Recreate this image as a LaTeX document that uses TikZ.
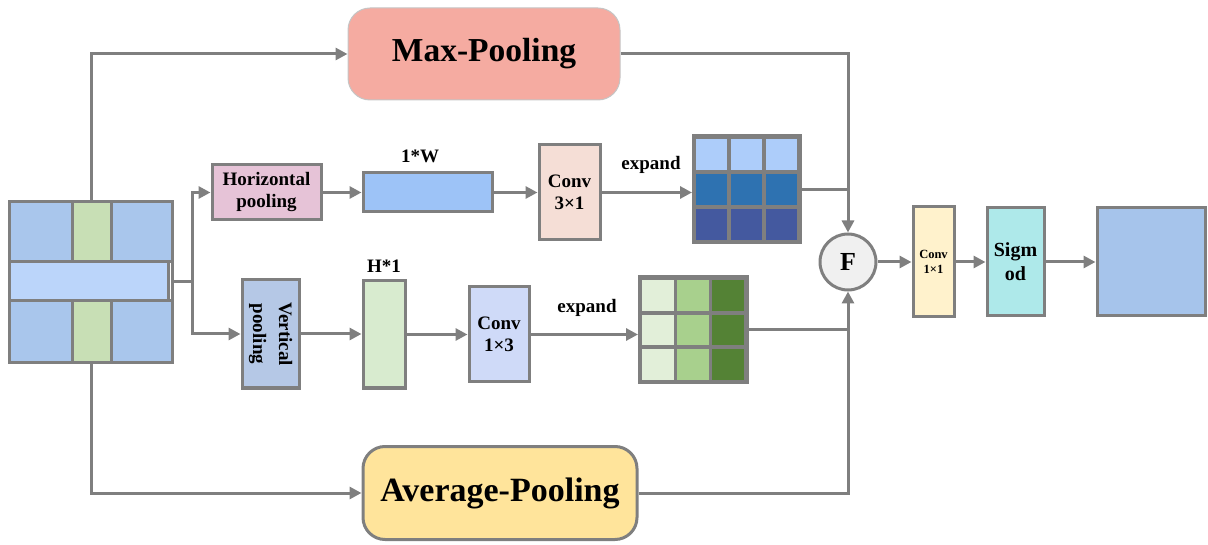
\documentclass[tikz,border=0pt]{standalone}
\usepackage{fontspec}
\setmainfont{Liberation Serif}
\usetikzlibrary{arrows.meta}
\definecolor{lgray}{HTML}{7F7F7F}
\definecolor{tileblue}{HTML}{A9C6EC}
\definecolor{barblue}{HTML}{BBD5FA}
\definecolor{tilegreen}{HTML}{C8DFB5}
\definecolor{hpool}{HTML}{E6C3D7}
\definecolor{onew}{HTML}{9DC3F7}
\definecolor{convA}{HTML}{F5DED6}
\definecolor{gA}{HTML}{ADCDFA}
\definecolor{gB}{HTML}{2E72B1}
\definecolor{gC}{HTML}{44599F}
\definecolor{vpool}{HTML}{B5C8E6}
\definecolor{honec}{HTML}{D8EBCF}
\definecolor{convB}{HTML}{CFDAF8}
\definecolor{hA}{HTML}{E2EFD9}
\definecolor{hB}{HTML}{A8D08D}
\definecolor{hC}{HTML}{548235}
\definecolor{ffill}{HTML}{F0F0F0}
\definecolor{convC}{HTML}{FFF2CC}
\definecolor{sigc}{HTML}{AEE9EA}
\definecolor{outc}{HTML}{A6C4EB}
\definecolor{maxc}{HTML}{F5ABA1}
\definecolor{avgc}{HTML}{FFE49B}
\tikzset{
  box/.style={draw=lgray, line width=3pt, inner sep=0pt, align=center,
    font=\bfseries\fontsize{19}{22}\selectfont},
  lbl/.style={inner sep=0pt, font=\bfseries\fontsize{19}{22}\selectfont},
  ln/.style={draw=lgray, line width=3pt},
  arr/.style={draw=lgray, line width=3pt, -{Triangle[length=12pt,width=12pt]}},
}
\begin{document}
\begin{tikzpicture}[x=1pt,y=-1pt]
\useasboundingbox (0,0) rectangle (1208,545);

% input feature map
\node[inner sep=0pt, minimum width=162pt, minimum height=161pt] (inp) at (91,282) {};
\fill[tileblue] (10,202) rectangle (72,262);
\fill[tileblue] (111,202) rectangle (172,262);
\fill[tileblue] (10,301) rectangle (72,362);
\fill[tileblue] (111,301) rectangle (172,362);
\fill[tilegreen] (72,202) rectangle (111,262);
\fill[tilegreen] (72,301) rectangle (111,362);
\fill[barblue] (10,262) rectangle (168,301);
\draw[ln] (72,202) -- (72,262) (111,202) -- (111,262)
          (72,301) -- (72,362) (111,301) -- (111,362)
          (10,262) -- (172,262) (10,301) -- (172,301) (168,262) -- (168,301);
\draw[ln] (inp.north west) rectangle (inp.south east);

% pooling branches
\node[box, fill=maxc, draw=lgray!45, line width=1pt, rounded corners=22pt,
      minimum width=272pt, minimum height=92pt,
      font=\bfseries\fontsize{33.5}{36}\selectfont] (maxp) at (484,54) {Max-Pooling};
\node[box, fill=avgc, rounded corners=22pt,
      minimum width=274pt, minimum height=93pt,
      font=\bfseries\fontsize{34}{38}\selectfont] (avgp) at (500,493) {Average-Pooling};

% horizontal branch
\node[box, fill=hpool, minimum width=109pt, minimum height=55pt] (hp) at (266.5,192.5) {Horizontal\\pooling};
\node[box, fill=onew, minimum width=129pt, minimum height=39pt] (onew) at (427.5,192.5) {};
\node[lbl] (onewl) at (420,156) {1*W};
\node[box, fill=convA, minimum width=61pt, minimum height=95pt] (c31) at (569.5,192.5) {Conv\\3×1};
\node[lbl] (exp1) at (651,165) {expand};
\node[draw=lgray, fill=lgray, line width=0pt, inner sep=0pt,
      minimum width=109pt, minimum height=109pt] (gt) at (746.5,189.5) {};
\foreach \i in {0,1,2}{
  \fill[gA] (692+4+\i*35,135+4) rectangle ++(31,31);
  \fill[gB] (692+4+\i*35,135+4+35) rectangle ++(31,31);
  \fill[gC] (692+4+\i*35,135+4+70) rectangle ++(31,31);
}

% vertical branch
\node[box, fill=vpool, minimum width=57pt, minimum height=108pt] (vp) at (270.5,334) {};
\node[inner sep=0pt, rotate=-90, align=center,
      font=\bfseries\fontsize{19}{26}\selectfont] (vpl) at (vp.center) {Vertical\\pooling};
\node[box, fill=honec, minimum width=42pt, minimum height=107pt] (hone) at (384,334.5) {};
\node[lbl] (honel) at (384,266) {H*1};
\node[box, fill=convB, minimum width=60pt, minimum height=95pt] (c13) at (499,334.5) {Conv\\1×3};
\node[lbl] (exp2) at (587,308) {expand};
\node[draw=lgray, fill=lgray, line width=0pt, inner sep=0pt,
      minimum width=110pt, minimum height=108pt] (gb) at (693,330) {};
\foreach \j in {0,1,2}{
  \fill[hA] (638+4,276+4+\j*34.7) rectangle ++(32,30.7);
  \fill[hB] (638+4+35,276+4+\j*34.7) rectangle ++(32,30.7);
  \fill[hC] (638+4+70,276+4+\j*34.7) rectangle ++(32,30.7);
}

% fusion and output
\node[circle, draw=lgray, line width=3pt, fill=ffill, minimum size=56pt, inner sep=0pt,
      font=\bfseries\fontsize{26}{28}\selectfont] (F) at (848,262) {F};
\node[box, fill=convC, minimum width=41pt, minimum height=110pt,
      font=\bfseries\fontsize{12.5}{15}\selectfont] (c11) at (933.5,262) {Conv\\1×1};
\node[box, fill=sigc, minimum width=57pt, minimum height=108pt,
      font=\bfseries\fontsize{20}{24}\selectfont] (sig) at (1015.5,262) {Sigm\\od};
\node[box, fill=outc, minimum width=108pt, minimum height=108pt] (out) at (1151,262) {};

% connectors
\draw[ln] (inp.east) -- ++(20,0) coordinate (split);
\draw[arr] (split) |- (hp.west);
\draw[arr] (split) |- (vp.west);
\draw[arr] (inp.north) |- (maxp.west);
\draw[arr] (inp.south) |- (avgp.west);
\draw[arr] (maxp.east) -| (F.north);
\draw[arr] (avgp.east) -| (F.south);
\draw[arr] (hp.east) -- (onew.west);
\draw[arr] (onew.east) -- (c31.west);
\draw[arr] (c31.east) -- (c31.east -| gt.west);
\draw[ln] (gt.east) -- (gt.east -| F.north);
\draw[arr] (vp.east) -- (vp.east -| hone.west);
\draw[arr] (hone.east) -- (c13.west);
\draw[arr] (c13.east) -- (c13.east -| gb.west);
\draw[ln] (gb.east) -- (gb.east -| F.south);
\draw[arr] (F.east) -- (c11.west);
\draw[arr] (c11.east) -- (sig.west);
\draw[arr] (sig.east) -- (out.west);
\end{tikzpicture}
\end{document}
